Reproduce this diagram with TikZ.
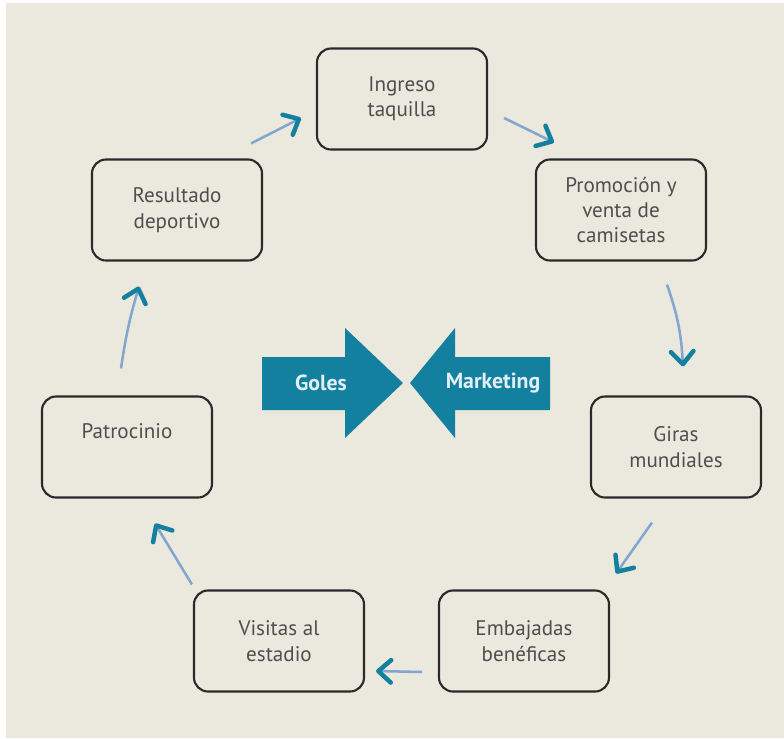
\documentclass[tikz,border=0pt]{standalone}
\usepackage{fontspec}
\setmainfont{PT Sans}
\usetikzlibrary{arrows.meta}
\definecolor{cyclebg}{HTML}{EBE9DE}
\definecolor{cycleline}{HTML}{2A2A2A}
\definecolor{cycletext}{HTML}{4E4E4E}
\definecolor{cycleteal}{HTML}{14809F}
\definecolor{cycleflow}{HTML}{82A6CE}
\definecolor{cyclelabel}{HTML}{E2F0F6}
\tikzset{
  stage/.style={
    draw=cycleline,
    line width=1.5pt,
    rounded corners=10pt,
    minimum width=4.25cm,
    minimum height=2.525cm,
    align=center,
    text=cycletext,
    font=\fontsize{15}{18}\selectfont
  },
  flow/.style={
    line width=1.8pt,
    draw=cycleflow,
    -{Straight Barb[length=9pt,width=16pt,line width=3.2pt,color=cycleteal,round]}
  },
  push/.style={fill=cycleteal},
  pushlabel/.style={text=cyclelabel,font=\fontsize{15.5}{18}\selectfont\bfseries}
}

\begin{document}
\begin{tikzpicture}[x=0.025cm,y=-0.025cm]
  % page and background
  \fill[white] (0,0) rectangle (784,738);
  \fill[cyclebg] (6,3) rectangle (784,738);
  \useasboundingbox (0,0) rectangle (784,738);

  % the seven stages of the cycle
  \node[stage] (ingreso) at (402,99) {Ingreso\\taquilla};
  \node[stage] (resultado) at (177,210) {Resultado\\deportivo};
  \node[stage] (promocion) at (621,210) {Promoción y\\venta de\\camisetas};
  \node[stage,text depth=0.8cm] (patrocinio) at (127,447) {Patrocinio};
  \node[stage] (giras) at (676,447) {Giras\\mundiales};
  \node[stage] (visitas) at (279,641) {Visitas al\\estadio};
  \node[stage] (embajadas) at (524,641) {Embajadas\\benéficas};

  % two big arrows in the middle
  \fill[push] (262,357) -- (345,357) -- (345,328) -- (403,383)
    -- (345,438) -- (345,410) -- (262,410) -- cycle;
  \fill[push] (550,357) -- (455,357) -- (455,328) -- (410,383)
    -- (455,438) -- (455,410) -- (550,410) -- cycle;
  \node[pushlabel] (goles) at (321,383) {Goles};
  \node[pushlabel] (marketing) at (493,383) {Marketing};

  % flow round the cycle
  \draw[flow] ([shift={(-12,-15)}]resultado.north east) -- ([shift={(-15,19)}]ingreso.west);
  \draw[flow] ([shift={(16,19)}]ingreso.east) -- ([shift={(19,-16)}]promocion.north west);
  \draw[flow] ([shift={(46,23)}]promocion.south) to[bend left=8] ([shift={(7,-29)}]giras.north);
  \draw[flow] ([shift={(-24,24)}]giras.south) -- ([shift={(6,-16)}]embajadas.north east);
  \draw[flow] ([shift={(-16,31)}]embajadas.west) -- ([shift={(11,30)}]visitas.east);
  \draw[flow] ([shift={(-1,-5)}]visitas.north west) -- ([shift={(28,25)}]patrocinio.south);
  \draw[flow] ([shift={(-6,-27)}]patrocinio.north) to[bend left=4] ([shift={(-38,25)}]resultado.south);
\end{tikzpicture}
\end{document}
